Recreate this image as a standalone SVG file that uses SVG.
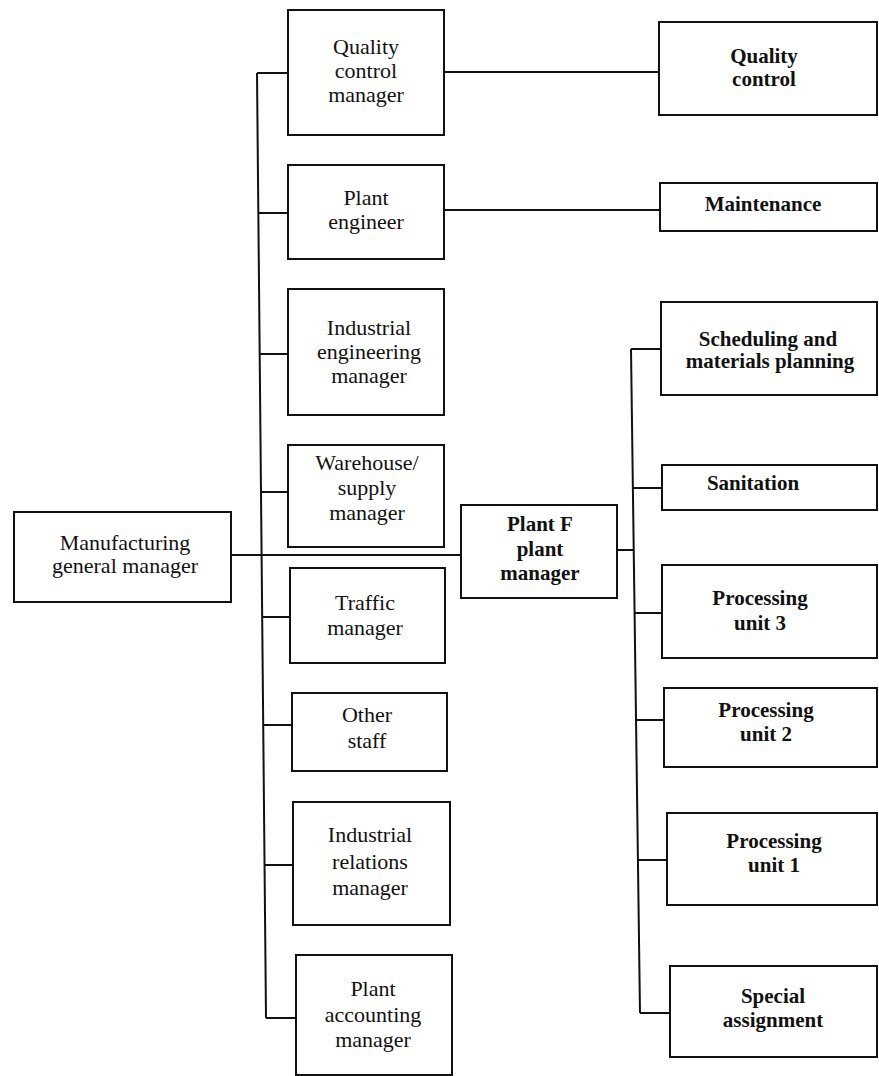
<svg xmlns="http://www.w3.org/2000/svg" width="879" height="1076" viewBox="0 0 879 1076">
<style>
rect{fill:#fff;stroke:#111;stroke-width:2}
.c line,.c path{stroke:#111;stroke-width:2;fill:none}
text{font-family:"Liberation Serif","Times New Roman",serif;fill:#111;text-anchor:middle}
.r{font-size:22px}
.b{font-size:21px;font-weight:bold}
</style>
<rect x="0" y="0" width="879" height="1076" style="fill:#fff;stroke:none"/>
<g class="c" id="connectors">
<path d="M257,73 L266,1018"/>
<line x1="257" y1="73" x2="288" y2="73"/>
<line x1="258" y1="213" x2="288" y2="213"/>
<line x1="259" y1="354" x2="288" y2="354"/>
<line x1="261" y1="492" x2="288" y2="492"/>
<line x1="262" y1="617" x2="290" y2="617"/>
<line x1="263" y1="725" x2="292" y2="725"/>
<line x1="264" y1="865" x2="293" y2="865"/>
<line x1="266" y1="1018" x2="296" y2="1018"/>
<line x1="231" y1="555" x2="461" y2="555"/>
<line x1="444" y1="72" x2="659" y2="72"/>
<line x1="444" y1="210" x2="660" y2="210"/>
<path d="M631,349 L640,1013"/>
<line x1="631" y1="349" x2="661" y2="349"/>
<line x1="633" y1="488" x2="662" y2="488"/>
<line x1="617" y1="550" x2="633" y2="550"/>
<line x1="634" y1="613" x2="662" y2="613"/>
<line x1="635" y1="720" x2="664" y2="720"/>
<line x1="637" y1="860" x2="667" y2="860"/>
<line x1="640" y1="1013" x2="670" y2="1013"/>
</g>
<g id="mgm"><rect x="14" y="512" width="217" height="90"/>
<text class="r" x="125" y="550">Manufacturing</text><text class="r" x="125" y="573">general manager</text></g>
<g id="qcm"><rect x="288" y="10" width="156" height="125"/>
<text class="r" x="366" y="54">Quality</text><text class="r" x="366" y="78">control</text><text class="r" x="366" y="102">manager</text></g>
<g id="pe"><rect x="288" y="165" width="156" height="94"/>
<text class="r" x="366" y="205">Plant</text><text class="r" x="366" y="229">engineer</text></g>
<g id="iem"><rect x="288" y="289" width="156" height="126"/>
<text class="r" x="369" y="335">Industrial</text><text class="r" x="369" y="359">engineering</text><text class="r" x="369" y="383">manager</text></g>
<g id="wsm"><rect x="288" y="445" width="156" height="102"/>
<text class="r" x="367" y="470">Warehouse/</text><text class="r" x="367" y="495">supply</text><text class="r" x="367" y="520">manager</text></g>
<g id="tm"><rect x="290" y="568" width="155" height="95"/>
<text class="r" x="365" y="610">Traffic</text><text class="r" x="365" y="635">manager</text></g>
<g id="os"><rect x="292" y="693" width="155" height="78"/>
<text class="r" x="367" y="722">Other</text><text class="r" x="367" y="748">staff</text></g>
<g id="irm"><rect x="293" y="802" width="157" height="123"/>
<text class="r" x="370" y="842">Industrial</text><text class="r" x="370" y="869">relations</text><text class="r" x="370" y="895">manager</text></g>
<g id="pam"><rect x="296" y="955" width="156" height="120"/>
<text class="r" x="373" y="996">Plant</text><text class="r" x="373" y="1022">accounting</text><text class="r" x="373" y="1047">manager</text></g>
<g id="pfpm"><rect x="461" y="505" width="156" height="93"/>
<text class="b" x="540" y="531">Plant F</text><text class="b" x="540" y="556">plant</text><text class="b" x="540" y="580">manager</text></g>
<g id="qc"><rect x="659" y="22" width="218" height="93"/>
<text class="b" x="764" y="63">Quality</text><text class="b" x="764" y="86">control</text></g>
<g id="mt"><rect x="660" y="183" width="217" height="48"/>
<text class="b" x="763" y="211">Maintenance</text></g>
<g id="smp"><rect x="661" y="302" width="216" height="93"/>
<text class="b" x="768" y="346">Scheduling and</text><text class="b" x="770" y="368">materials planning</text></g>
<g id="san"><rect x="662" y="465" width="215" height="45"/>
<text class="b" x="753" y="490">Sanitation</text></g>
<g id="pu3"><rect x="662" y="565" width="215" height="93"/>
<text class="b" x="760" y="605">Processing</text><text class="b" x="760" y="630">unit 3</text></g>
<g id="pu2"><rect x="664" y="688" width="213" height="79"/>
<text class="b" x="766" y="717">Processing</text><text class="b" x="766" y="741">unit 2</text></g>
<g id="pu1"><rect x="667" y="813" width="210" height="92"/>
<text class="b" x="774" y="848">Processing</text><text class="b" x="774" y="872">unit 1</text></g>
<g id="sa"><rect x="670" y="966" width="207" height="91"/>
<text class="b" x="773" y="1003">Special</text><text class="b" x="773" y="1027">assignment</text></g>
</svg>
